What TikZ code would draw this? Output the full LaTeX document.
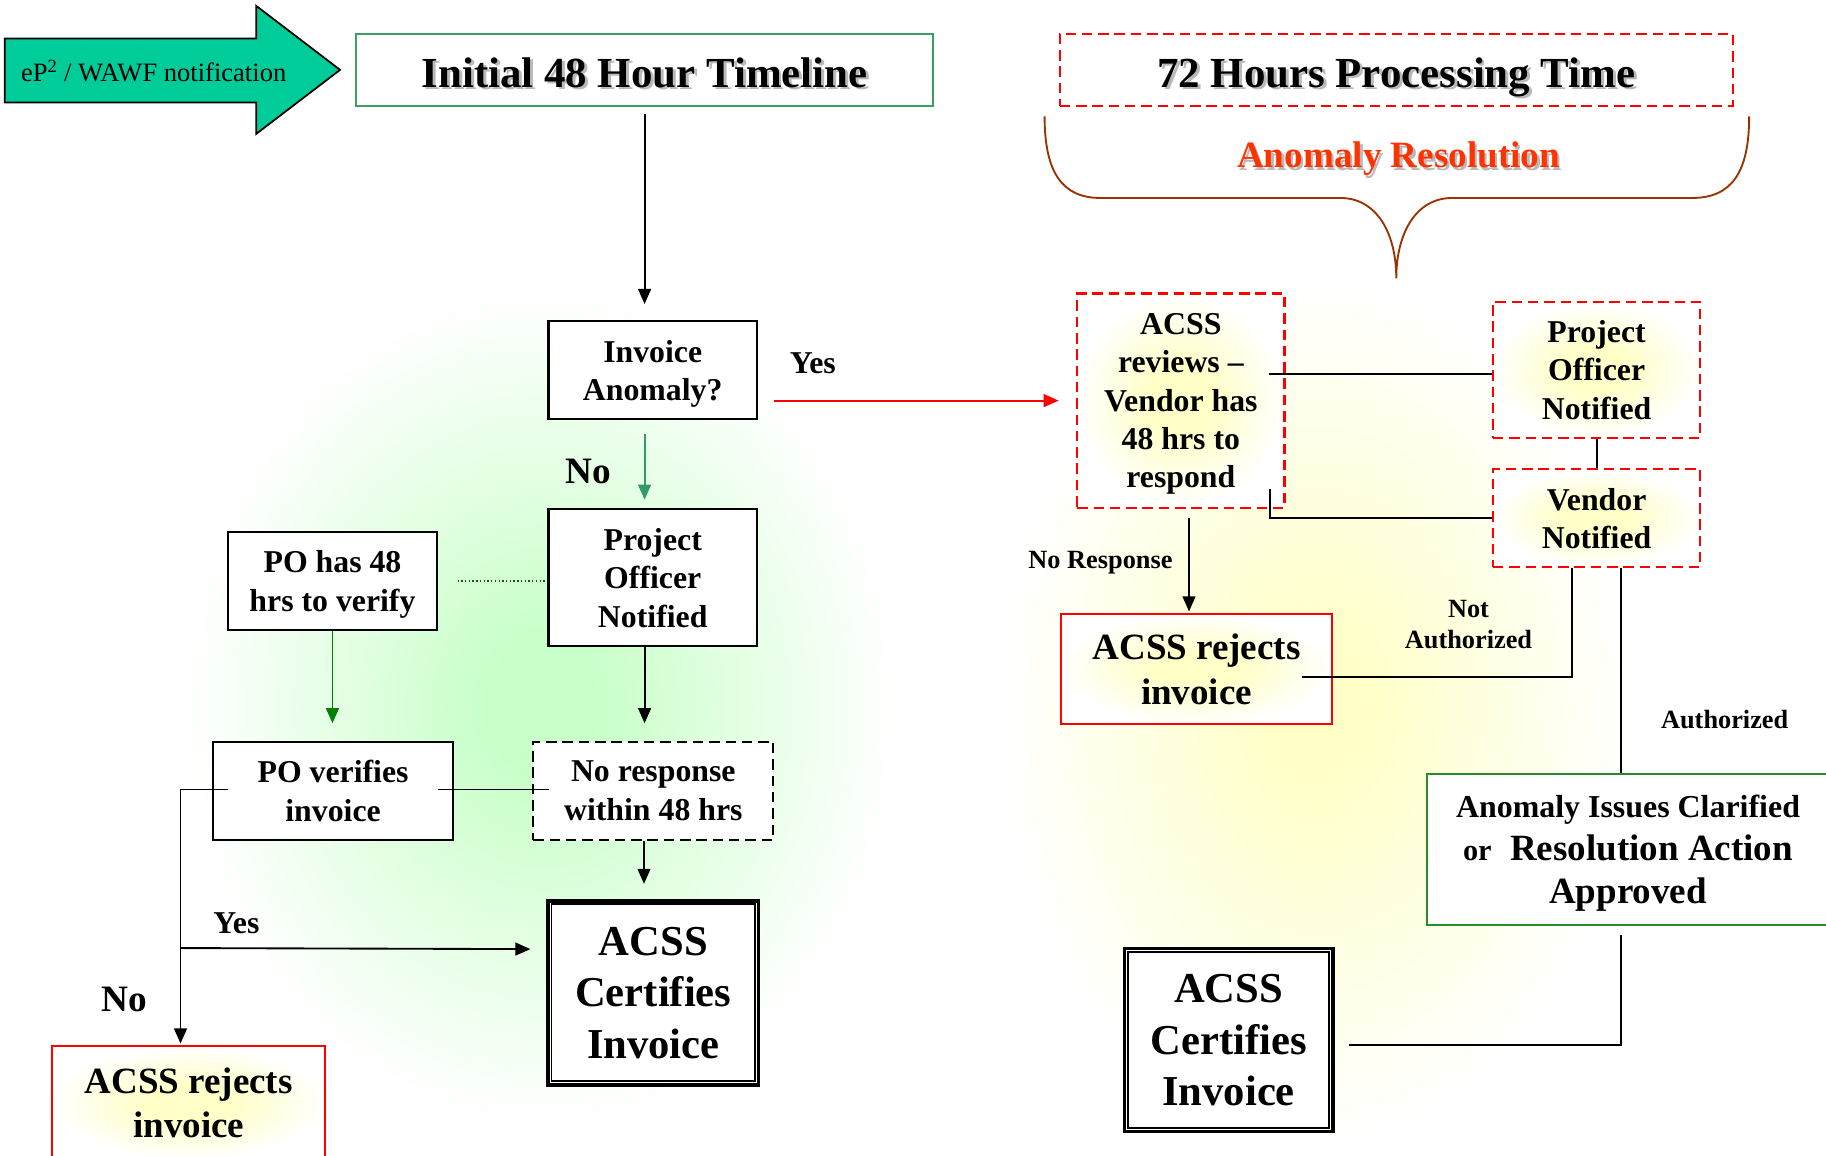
\documentclass[tikz,border=0pt]{standalone}
\usepackage{fontspec}
\setmainfont{Liberation Serif}
\usetikzlibrary{arrows.meta,calc}
\definecolor{gglow}{RGB}{200,255,200}
\definecolor{yglowc}{RGB}{255,255,200}
\definecolor{yboxc}{RGB}{255,255,200}
\definecolor{arrowgreen}{RGB}{0,204,153}
\definecolor{initgreen}{RGB}{60,160,100}
\definecolor{nogreen}{RGB}{51,153,102}
\definecolor{pogreen}{RGB}{0,128,0}
\definecolor{aicgreen}{RGB}{40,140,40}
\definecolor{bracebrown}{RGB}{153,51,0}
\definecolor{resred}{RGB}{255,51,0}
\definecolor{dotgreen}{RGB}{0,100,0}
\colorlet{gglowmid}{gglow!55!white}
\colorlet{yglowmid}{yglowc!55!white}
\pgfdeclareradialshading{greenglow}{\pgfpoint{0bp}{0bp}}{color(0bp)=(gglow); color(4bp)=(gglow); color(13bp)=(gglowmid); color(25bp)=(white); color(50bp)=(white)}
\pgfdeclareradialshading{yellowglow}{\pgfpoint{0bp}{0bp}}{color(0bp)=(yglowc); color(4bp)=(yglowc); color(13bp)=(yglowmid); color(25bp)=(white); color(50bp)=(white)}
\pgfdeclareradialshading{yboxglow}{\pgfpoint{0bp}{0bp}}{color(0bp)=(yboxc); color(8bp)=(yboxc); color(25bp)=(white); color(50bp)=(white)}
\tikzset{
  box/.style={draw, line width=1.8pt, fill=white, align=center, inner sep=0pt, text depth=0pt,
    font=\bfseries\fontsize{27.3}{33}\selectfont},
  rdash/.style={box, draw=red, dash pattern=on 9pt off 5pt},
  ybox/.style={shade, shading=yboxglow},
  titletext/.style={font=\bfseries\fontsize{36.8}{44}\selectfont, inner sep=0pt, text depth=0pt},
  certtext/.style={font=\bfseries\fontsize{36.6}{44}\selectfont},
  rejtext/.style={font=\bfseries\fontsize{31.8}{38}\selectfont},
  lbl/.style={font=\bfseries\fontsize{27.3}{33}\selectfont, inner sep=0pt},
  biglbl/.style={font=\bfseries\fontsize{32}{38}\selectfont, inner sep=0pt},
  smalllbl/.style={font=\bfseries\fontsize{22.6}{27}\selectfont, inner sep=0pt, align=center, text depth=0pt},
  conn/.style={line width=1.6pt},
  arr/.style={conn, -{Triangle[length=13pt,width=11pt]}},
}
\begin{document}
\begin{tikzpicture}[x=1pt,y=-1pt]
\useasboundingbox (0,0) rectangle (1568,992);
\fill[white] (0,0) rectangle (1568,992);
% background glows
\shade[shading=greenglow] (160,250) rectangle (770,965);
\shade[shading=yellowglow] (860,240) rectangle (1400,980);

% notification arrow
\draw[fill=arrowgreen, line width=1.5pt] (4,33) -- (220,33) -- (220,5) -- (292,60) -- (220,115) -- (220,88) -- (4,88) -- cycle;
\node[font=\fontsize{22.8}{27}\selectfont, inner sep=0pt] (notif) at (132,61) {eP\textsuperscript{2} / WAWF notification};

% title boxes
\node[draw=initgreen, line width=1.8pt, fill=white, minimum width=495pt, minimum height=62pt] (init) at (553.5,60) {};
\node[titletext, text=gray!55] (initsh) at ($(init)+(2.5,4.5)$) {Initial 48 Hour Timeline};
\node[titletext] (initt) at ($(init)+(0,2)$) {Initial 48 Hour Timeline};

\node[draw=red, line width=1.8pt, dash pattern=on 9pt off 5pt, fill=white, minimum width=578pt, minimum height=62pt] (t72) at (1199,60) {};
\node[titletext, text=gray!55] (t72sh) at ($(t72)+(2.5,4.5)$) {72 Hours Processing Time};
\node[titletext] (t72t) at ($(t72)+(0,2)$) {72 Hours Processing Time};

% brace
\draw[bracebrown, line width=1.6pt] (897,100) .. controls (897,148) and (912,170) .. (945,170) -- (1151,170)
  .. controls (1182,170) and (1199,200) .. (1199,239)
  .. controls (1199,200) and (1216,170) .. (1247,170) -- (1453,170)
  .. controls (1487,170) and (1502,148) .. (1502,100);
\node[font=\bfseries\fontsize{31.9}{38}\selectfont, text=gray!55, inner sep=0pt, text depth=0pt] (anresh) at (1203,135) {Anomaly Resolution};
\node[font=\bfseries\fontsize{31.9}{38}\selectfont, text=resred, inner sep=0pt, text depth=0pt] (anres) at (1201,133) {Anomaly Resolution};

% left flow
\node[box, minimum width=179pt, minimum height=84pt] (inv) at (560.5,318) {Invoice\\Anomaly?};
\node[box, minimum width=179pt, minimum height=118pt] (pon) at (560.5,496) {Project\\Officer\\Notified};
\node[box, minimum width=179pt, minimum height=84pt] (po48) at (285.5,499) {PO has 48\\hrs to verify};
\node[box, minimum width=206pt, minimum height=84pt] (pov) at (286,679) {PO verifies\\invoice};
\node[box, dash pattern=on 9pt off 5pt, minimum width=206pt, minimum height=84pt] (nr) at (561,679) {No response\\within 48 hrs};
\node[box, line width=3pt, minimum width=181pt, minimum height=158pt, certtext] (cert1) at (561,852.5) {ACSS\\Certifies\\Invoice};
\draw[line width=1.5pt] ($(cert1.north west)+(4.5,4.5)$) rectangle ($(cert1.south east)+(-4.5,-4.5)$);
\node[box, draw=red, ybox, minimum width=234pt, minimum height=98pt, rejtext] (rej1) at (162,947) {ACSS rejects\\invoice};

\node[lbl] (yes1) at (698,312) {Yes};
\node[biglbl] (no1) at (505,405) {No};
\node[lbl] (yes2) at (203,793) {Yes};
\node[biglbl] (no2) at (107,858) {No};

\draw[arr] ($(init.south)+(0,6)$) -- ($(inv.north)+(-7,-14)$);
\draw[arr, nogreen] ($(inv.south)+(-7,12)$) -- ($(pon.north)+(-7,-7)$);
\draw[conn, dotgreen, line width=1.2pt, dotted] ($(po48.east)+(17,0)$) -- ($(pon.west)+(-2,3)$);
\draw[arr, pogreen] (po48.south) -- ($(pov.north)+(-0.5,-15)$);
\draw[arr] ($(pon.south)+(-7,0)$) -- ($(nr.north)+(-7.5,-15)$);
\draw[conn] ($(pov.east)+(-14,-1)$) -- ($(nr.west)+(14,-1)$);
\draw[arr] ($(pov.west)+(14,-1)$) -| ($(rej1.north)+(-7,-1)$);
\coordinate (br) at ($(rej1.north)+(-7,-83)$);
\draw[arr] (br) -- ($(cert1.west)+(-13.5,-37.5)$);
\draw[arr] ($(nr.south)+(-8,0)$) -- ($(cert1.north)+(-8,-13)$);

% right flow
\node[rdash, ybox, minimum width=178pt, minimum height=184pt] (rev) at (1014,344) {ACSS\\reviews --\\Vendor has\\48 hrs to\\respond};
\node[rdash, ybox, minimum width=178pt, minimum height=117pt] (pon2) at (1371,317.5) {Project\\Officer\\Notified};
\node[rdash, ybox, minimum width=178pt, minimum height=84pt] (vn) at (1371,445) {Vendor\\Notified};
\node[box, draw=red, ybox, minimum width=233pt, minimum height=95pt, rejtext] (rej2) at (1027.5,574.5) {ACSS rejects\\invoice};
\node[box, draw=aicgreen, minimum width=345pt, minimum height=129pt, font=\bfseries\fontsize{31.8}{37}\selectfont] (aic) at (1398,729.5)
  {{\fontsize{27.4}{37}\selectfont Anomaly Issues Clarified}\\{\fontsize{26}{37}\selectfont or}\ \ Resolution Action\\Approved};
\node[box, line width=3pt, minimum width=179pt, minimum height=157pt, certtext] (cert2) at (1055,893) {ACSS\\Certifies\\Invoice};
\draw[line width=1.5pt] ($(cert2.north west)+(4.5,4.5)$) rectangle ($(cert2.south east)+(-4.5,-4.5)$);

\node[smalllbl] (noresp) at (945,481) {No Response};
\node[smalllbl] (notauth) at (1261,536) {Not\\Authorized};
\node[smalllbl] (auth) at (1481,618) {Authorized};

\draw[arr, red] ($(inv.east)+(14,26)$) -- ($(rev.west)+(-15,0)$);
\draw[conn] ($(rev.east)+(-14,-23)$) -- ($(pon2.west)+(0,3.5)$);
\draw[conn] (pon2.south) -- (vn.north);
\draw[conn] ($(rev.south east)+(-13,-17)$) |- (vn.west);
\draw[arr] ($(rev.south)+(7,8)$) -- ($(rej2.north)+(-6.5,-1)$);
\draw[conn] ($(vn.south)+(-21,0)$) |- ($(rej2.east)+(-27,6.5)$);
\draw[conn] ($(vn.south)+(21,0)$) -- ($(aic.north)+(-6,0)$);
\draw[conn] ($(aic.south)+(-6,8)$) |- ($(cert2.east)+(12,4)$);
\end{tikzpicture}
\end{document}
